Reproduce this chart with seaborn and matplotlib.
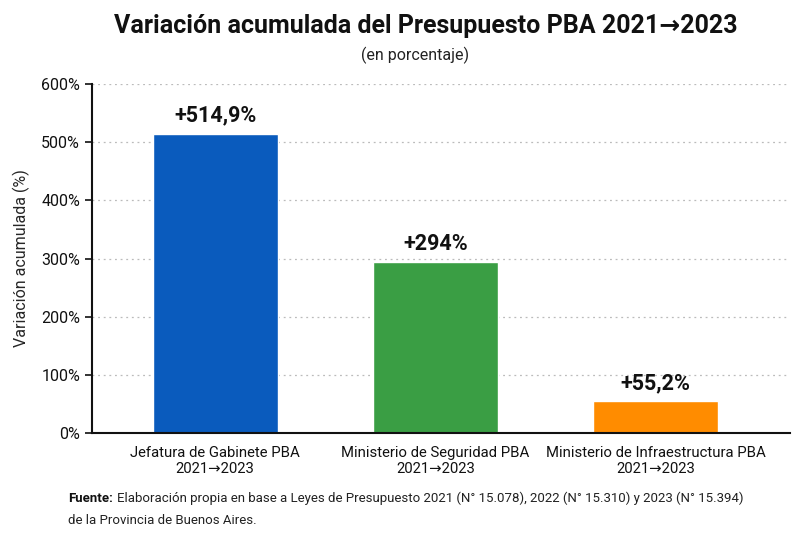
import matplotlib
matplotlib.use("Agg")
import matplotlib.pyplot as plt
import seaborn as sns
import pandas as pd
from matplotlib.ticker import FuncFormatter

# datos
categorias = [
    "Jefatura de Gabinete PBA\n2021→2023",
    "Ministerio de Seguridad PBA\n2021→2023",
    "Ministerio de Infraestructura PBA\n2021→2023",
]
variacion = [514.9, 294.0, 55.2]
etiquetas = ["+514,9%", "+294%", "+55,2%"]
colores = ["#0a5bbd", "#3a9e44", "#ff8c00"]
yticks = [0, 100, 200, 300, 400, 500, 600]

sns.set_theme(style="white")
plt.rcParams["font.family"] = ["Roboto", "DejaVu Sans"]

df = pd.DataFrame({"cat": categorias, "val": variacion})

fig = plt.figure(figsize=(8.11, 5.40), dpi=100)
ax = fig.add_axes([0.1134, 0.198, 0.8606, 0.6464])

sns.barplot(data=df, x="cat", y="val", hue="cat", palette=colores,
            width=0.57, legend=False, ax=ax, saturation=1)

for p, lab in zip(ax.patches, etiquetas):
    ax.annotate(lab, (p.get_x() + p.get_width() / 2, p.get_height()),
                xytext=(0, 5), textcoords="offset points",
                ha="center", va="bottom", fontsize=15.5, fontweight="bold",
                color="#111111")

ax.set_ylim(0, 600)
ax.set_xlim(-0.56, 2.61)
ax.set_yticks(yticks)
ax.yaxis.set_major_formatter(FuncFormatter(lambda v, _: f"{v:.0f}%"))
ax.grid(axis="y", linestyle=(0, (1.5, 3)), color="#bbbbbb", linewidth=0.9)
ax.set_axisbelow(True)
ax.set_xlabel("")
ax.set_ylabel("Variación acumulada (%)", fontsize=11.5, labelpad=8)

for s in ["top", "right"]:
    ax.spines[s].set_visible(False)
for s in ["left", "bottom"]:
    ax.spines[s].set_color("#111111")
    ax.spines[s].set_linewidth(1.5)

ax.tick_params(axis="y", left=True, length=5, width=1.2, labelsize=11.5, colors="#111111")
ax.tick_params(axis="x", bottom=False, labelsize=10.7, colors="#111111", pad=3)

fig.text(0.525, 0.952, "Variación acumulada del Presupuesto PBA 2021→2023",
         ha="center", va="center", fontsize=18, fontweight="bold", color="#111111")
fig.text(0.512, 0.898, "(en porcentaje)", ha="center", va="center",
         fontsize=11.5, color="#222222")

# fuente: "Fuente:" en negrita y el resto a continuacion
t1 = fig.text(0.084, 0.077, "Fuente:", ha="left", va="center", fontsize=9.5,
              fontweight="bold", color="#111111")
ax.annotate("Elaboración propia en base a Leyes de Presupuesto 2021 (N° 15.078), "
            "2022 (N° 15.310) y 2023 (N° 15.394)",
            xy=(1, 0.5), xycoords=t1, xytext=(3, 0), textcoords="offset points",
            ha="left", va="center", fontsize=9.5, color="#222222",
            annotation_clip=False)
fig.text(0.084, 0.036, "de la Provincia de Buenos Aires.", ha="left", va="center",
         fontsize=9.5, color="#222222")

fig.savefig("out.png", dpi=100, facecolor="white")
